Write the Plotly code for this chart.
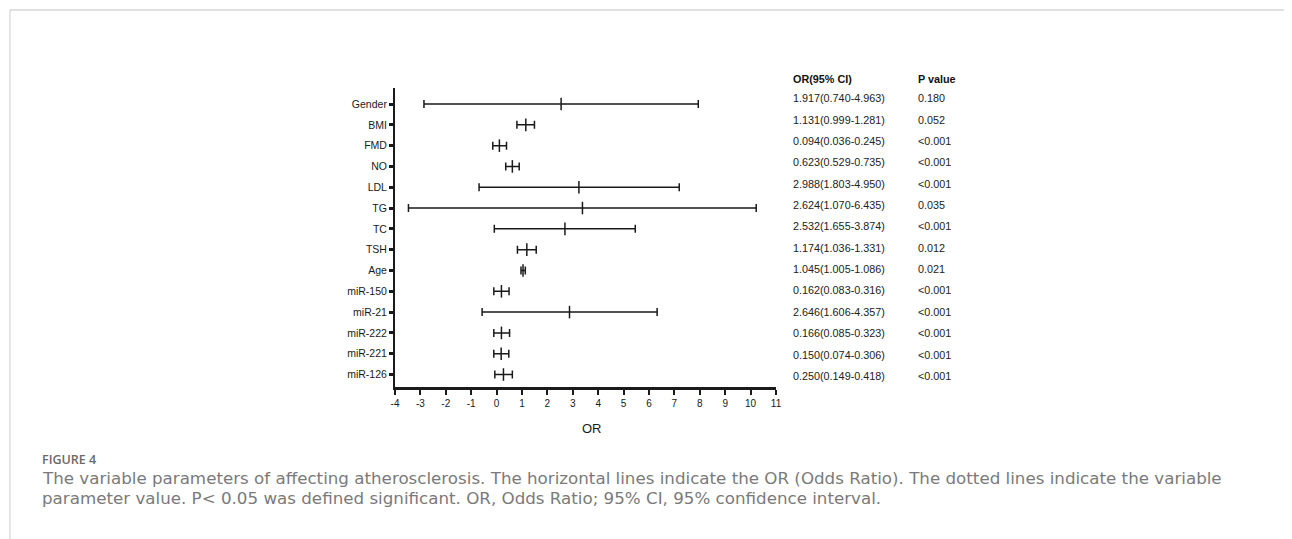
import plotly.graph_objects as go

categories = ["Gender", "BMI", "FMD", "NO", "LDL", "TG", "TC", "TSH", "Age",
              "miR-150", "miR-21", "miR-222", "miR-221", "miR-126"]
or_center = [2.54, 1.15, 0.11, 0.62, 3.24, 3.38, 2.69, 1.19, 1.04, 0.19, 2.87, 0.19, 0.18, 0.27]
ci_low = [-2.86, 0.80, -0.15, 0.36, -0.69, -3.47, -0.09, 0.82, 0.96, -0.11, -0.57, -0.11, -0.11, -0.07]
ci_high = [7.94, 1.49, 0.39, 0.89, 7.19, 10.22, 5.46, 1.56, 1.13, 0.49, 6.32, 0.51, 0.48, 0.62]
or_text = ["1.917(0.740-4.963)", "1.131(0.999-1.281)", "0.094(0.036-0.245)", "0.623(0.529-0.735)",
           "2.988(1.803-4.950)", "2.624(1.070-6.435)", "2.532(1.655-3.874)", "1.174(1.036-1.331)",
           "1.045(1.005-1.086)", "0.162(0.083-0.316)", "2.646(1.606-4.357)", "0.166(0.085-0.323)",
           "0.150(0.074-0.306)", "0.250(0.149-0.418)"]
p_text = ["0.180", "0.052", "<0.001", "<0.001", "<0.001", "0.035", "<0.001", "0.012",
          "0.021", "<0.001", "<0.001", "<0.001", "<0.001", "<0.001"]
table_headers = ["<b>OR(95% CI)</b>", "<b>P value</b>"]
x_ticks = list(range(-4, 12))
x_tick_labels = [str(v) for v in x_ticks]
caption_title = "FIGURE 4"
caption_lines = [
    "The variable parameters of affecting atherosclerosis. The horizontal lines indicate the OR (Odds Ratio). The dotted lines indicate the variable",
    "parameter value. P< 0.05 was defined significant. OR, Odds Ratio; 95% CI, 95% confidence interval.",
]

rows = list(range(len(categories)))
ink = "#1a1a1a"
FONT = "Liberation Sans, Arial, sans-serif"

# page has an 8px body margin: work in reference pixels, shifted by OFF
OFF = 8
W, H = 1292 - OFF, 539 - OFF
L, T = 395 - OFF, 88 - OFF
R = 1292 - 776
B = 539 - 387
pw, ph = W - L - R, H - T - B


def px(x):
    return (x - OFF - L) / pw


def py(y):
    return (H - B - (y - OFF)) / ph


fig = go.Figure()
fig.add_trace(go.Scatter(
    x=or_center, y=rows, mode="markers",
    marker=dict(symbol="line-ns", size=9, color=ink, line=dict(width=1.5, color=ink)),
    error_x=dict(type="data", symmetric=False,
                 array=[h - c for h, c in zip(ci_high, or_center)],
                 arrayminus=[c - l for c, l in zip(or_center, ci_low)],
                 thickness=1.5, width=4, color=ink),
    showlegend=False, hoverinfo="skip",
))

# invisible overlaid y axis for the table rows (slightly different row spacing)
r0, dr = 98.3, 21.35
y2_top = (88 - r0) / dr
y2_bot = (387 - r0) / dr

fig.update_layout(
    width=W, height=H,
    margin=dict(l=L, r=R, t=T, b=B),
    paper_bgcolor="white", plot_bgcolor="white",
    font=dict(family=FONT, size=10, color=ink),
    xaxis=dict(range=[-4, 11], tickvals=x_ticks, ticktext=x_tick_labels,
               showgrid=False, zeroline=False, showline=True, linewidth=3, linecolor=ink,
               ticks="outside", ticklen=5, tickwidth=2, tickcolor=ink,
               tickfont=dict(family=FONT, size=10, color=ink)),
    yaxis=dict(range=[13.6, -0.77], tickvals=rows, ticktext=categories,
               showgrid=False, zeroline=False, showline=True, linewidth=2, linecolor=ink,
               ticks="outside", ticklen=4, tickwidth=2.5, tickcolor=ink,
               tickfont=dict(family=FONT, size=10.5, color=ink)),
    yaxis2=dict(overlaying="y", range=[y2_bot, y2_top], visible=False),
)
# dummy invisible trace to activate yaxis2
fig.add_trace(go.Scatter(x=[None], y=[None], yaxis="y2", showlegend=False, hoverinfo="skip"))

tfont = dict(family=FONT, size=10.8, color="#222")
col_x = [px(791), px(916)]
for i in rows:
    fig.add_annotation(text=or_text[i], xref="paper", yref="y2", x=col_x[0], y=i,
                       showarrow=False, xanchor="left", yanchor="middle", font=tfont)
    fig.add_annotation(text=p_text[i], xref="paper", yref="y2", x=col_x[1], y=i,
                       showarrow=False, xanchor="left", yanchor="middle", font=tfont)
for j, h in enumerate(table_headers):
    fig.add_annotation(text=h, xref="paper", yref="paper", x=col_x[j], y=py(79.3),
                       showarrow=False, xanchor="left", yanchor="middle",
                       font=dict(family=FONT, size=10.8, color="#111"))

fig.add_annotation(text="OR", xref="paper", yref="paper", x=px(591.7), y=py(428.5),
                   showarrow=False, font=dict(family=FONT, size=13, color=ink),
                   xanchor="center", yanchor="middle")
fig.add_annotation(text=caption_title, xref="paper", yref="paper", x=px(40), y=py(459),
                   showarrow=False, font=dict(family="Open Sans", size=12.5, color="#6a6a6a", weight=600),
                   xanchor="left", yanchor="middle")
for i, line in enumerate(caption_lines):
    fig.add_annotation(text=line, xref="paper", yref="paper", x=px(40), y=py(478 + 20 * i),
                       showarrow=False, font=dict(family="DejaVu Sans", size=16.7, color="#7a7a7a"),
                       xanchor="left", yanchor="middle")

# frame lines
fig.add_shape(type="line", xref="paper", yref="paper", x0=px(10), x1=px(1300), y0=py(10), y1=py(10),
              line=dict(color="#e0e0e0", width=2))
fig.add_shape(type="line", xref="paper", yref="paper", x0=px(10), x1=px(10), y0=py(10), y1=py(545),
              line=dict(color="#cccccc", width=1))

fig.write_html("out.html")
